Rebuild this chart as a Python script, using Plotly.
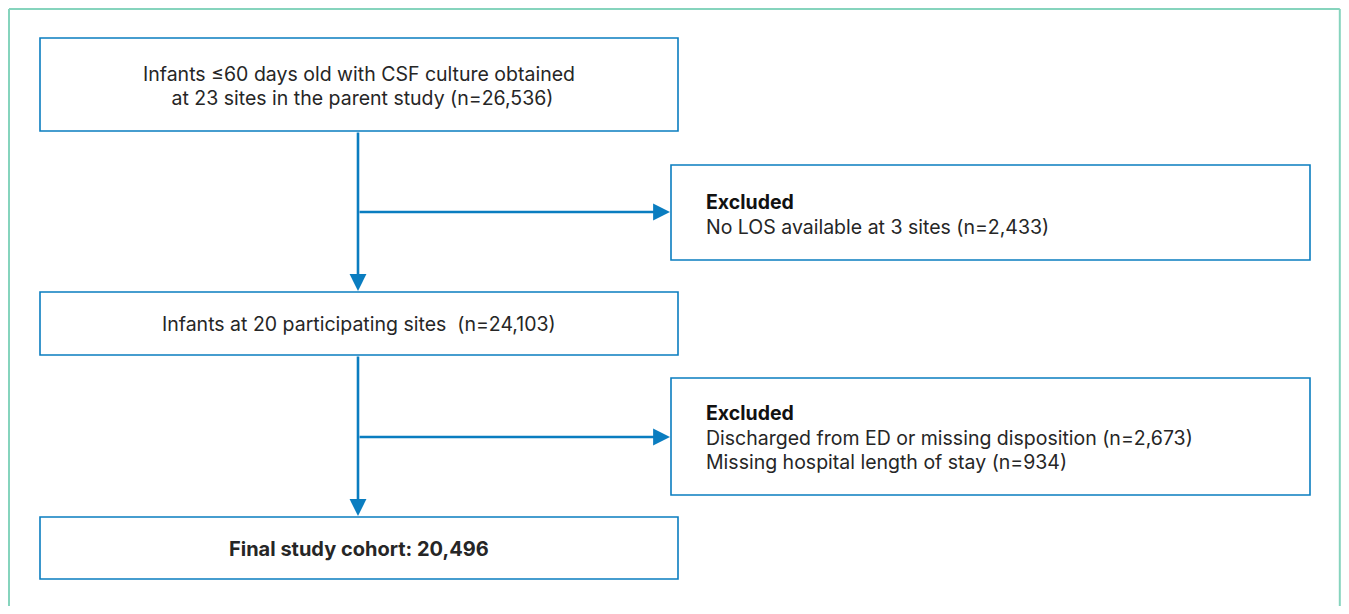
import plotly.graph_objects as go

# Flowchart content
main_labels = [
    ["Infants ≤60 days old with CSF culture obtained", " at 23 sites in the parent study (n=26,536)"],
    ["Infants at 20 participating sites  (n=24,103)"],
    ["<b>Final study cohort: 20,496</b>"],
]
excl_titles = ["Excluded", "Excluded"]
excl_lines = [
    ["No LOS available at 3 sites (n=2,433)"],
    ["Discharged from ED or missing disposition (n=2,673)", "Missing hospital length of stay (n=934)"],
]

# layout geometry (screen pixel coordinates; the page body adds an 8px margin)
W, H = 1349, 614
OFF = 8
main_boxes = [(40, 678, 38, 131), (40, 678, 292, 355), (40, 678, 517, 579)]
excl_boxes = [(671, 1310, 165, 260), (671, 1310, 378, 495)]
main_text_y = [74, 324, 549]
excl_text_y0 = [202, 413]
line_gap = 24.5
stem_x = 358
branch_y = [212, 437]

BLUE = "#0a7dc0"
TEAL = "#86d4bd"
TXT = "#262626"
FONT = "Inter"
FS = 19.5

fig = go.Figure()
shapes = []
annotations = []

# outer frame (top, left, right edges; bottom is outside the view)
RX = W - OFF - 1.2
frame = [(9, 9, 9, H), (RX, RX, 9, H), (9, RX, 9, 9)]
for x0, x1, y0, y1 in frame:
    shapes.append(dict(type="line", x0=x0, x1=x1, y0=y0, y1=y1, xref="x", yref="y",
                       line=dict(color=TEAL, width=2)))

for (x0, x1, y0, y1) in main_boxes + excl_boxes:
    shapes.append(dict(type="rect", x0=x0, x1=x1, y0=y0, y1=y1, xref="x", yref="y",
                       line=dict(color=BLUE, width=1.6), fillcolor="white"))

for lines, ty in zip(main_labels, main_text_y):
    for i, ln in enumerate(lines):
        annotations.append(dict(x=stem_x + 1, y=ty + 24 * i, xref="x", yref="y", text=ln,
                                showarrow=False,
                                font=dict(family=FONT, size=FS + (0.5 if "<b>" in ln else 0), color=TXT),
                                align="center", xanchor="center", yanchor="middle"))

for (x0, x1, y0, y1), title, lines, ty0 in zip(excl_boxes, excl_titles, excl_lines, excl_text_y0):
    annotations.append(dict(x=x0 + 33, y=ty0, xref="x", yref="y", text="<b>" + title + "</b>",
                            showarrow=False, font=dict(family=FONT, size=FS, color="#111111"),
                            xanchor="left", yanchor="middle"))
    for i, ln in enumerate(lines):
        annotations.append(dict(x=x0 + 33, y=ty0 + line_gap * (i + 1), xref="x", yref="y", text=ln,
                                showarrow=False, font=dict(family=FONT, size=FS, color=TXT),
                                xanchor="left", yanchor="middle"))

# vertical arrows between main boxes, and branches to exclusion boxes
for i in range(2):
    y_start = main_boxes[i][3]
    y_end = main_boxes[i + 1][2] - 1
    annotations.append(dict(x=stem_x, y=y_end, ax=stem_x, ay=y_start, xref="x", yref="y",
                            axref="x", ayref="y", text="", showarrow=True, arrowhead=2,
                            arrowsize=1.3, arrowwidth=2.6, arrowcolor=BLUE, standoff=0))
    annotations.append(dict(x=excl_boxes[i][0] - 1, y=branch_y[i], ax=stem_x, ay=branch_y[i],
                            xref="x", yref="y", axref="x", ayref="y", text="", showarrow=True,
                            arrowhead=2, arrowsize=1.3, arrowwidth=2.6, arrowcolor=BLUE, standoff=0))

fig.update_layout(
    width=W - 2 * OFF, height=H - 2 * OFF, margin=dict(l=0, r=0, t=0, b=0),
    paper_bgcolor="white", plot_bgcolor="white",
    xaxis=dict(range=[OFF, W - OFF], visible=False, fixedrange=True),
    yaxis=dict(range=[H - OFF, OFF], visible=False, fixedrange=True),
    shapes=shapes, annotations=annotations, showlegend=False,
)
fig.write_html("out.html")
